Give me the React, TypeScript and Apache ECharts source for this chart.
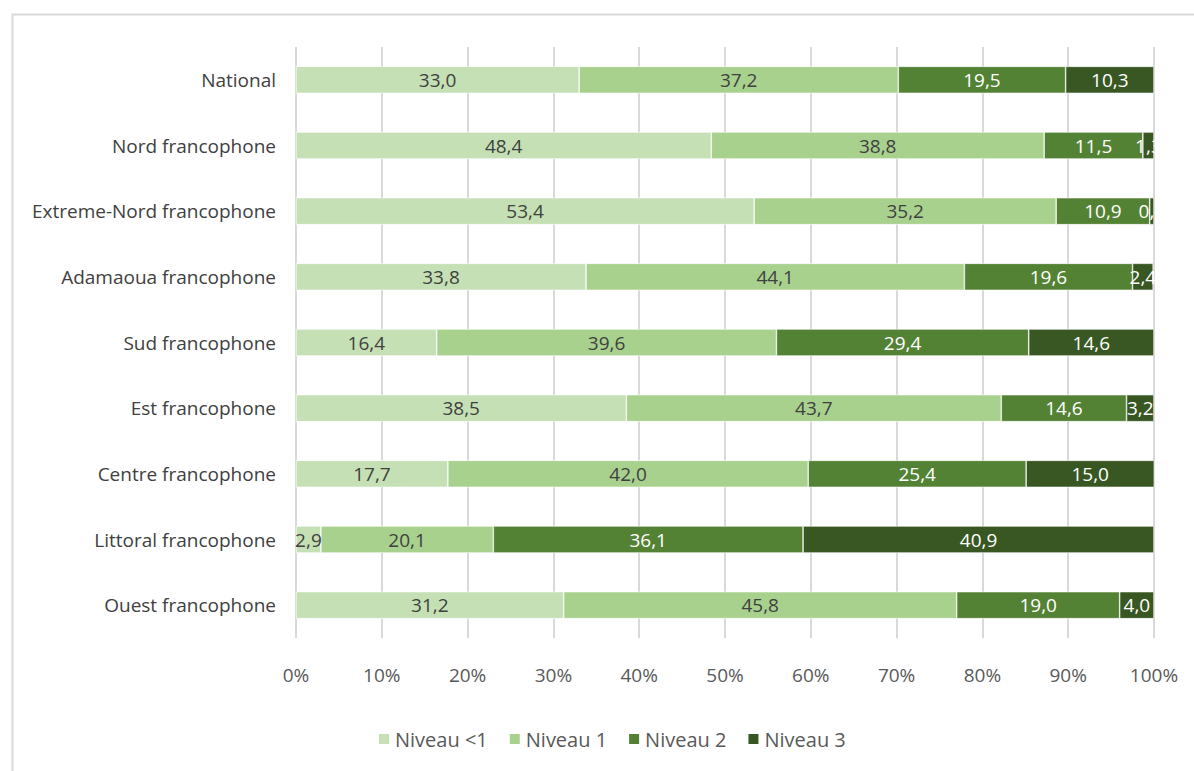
import React, { useEffect, useRef } from "react";
import * as echarts from "echarts";

const categories = [
  "National",
  "Nord francophone",
  "Extreme-Nord francophone",
  "Adamaoua francophone",
  "Sud francophone",
  "Est francophone",
  "Centre francophone",
  "Littoral francophone",
  "Ouest francophone",
];
const seriesNames = ["Niveau <1", "Niveau 1", "Niveau 2", "Niveau 3"];
const niveauMoins1 = [33.0, 48.4, 53.4, 33.8, 16.4, 38.5, 17.7, 2.9, 31.2];
const niveau1 = [37.2, 38.8, 35.2, 44.1, 39.6, 43.7, 42.0, 20.1, 45.8];
const niveau2 = [19.5, 11.5, 10.9, 19.6, 29.4, 14.6, 25.4, 36.1, 19.0];
const niveau3 = [10.3, 1.3, 0.5, 2.4, 14.6, 3.2, 15.0, 40.9, 4.0];
const tickValues = [0, 10, 20, 30, 40, 50, 60, 70, 80, 90, 100];

const colors = ["#C5E0B4", "#A9D18E", "#548235", "#385723"];
const labelColors = ["#404040", "#404040", "#ffffff", "#ffffff"];
const FONT = "'Open Sans', sans-serif";

export default function App() {
  const ref = useRef<HTMLDivElement>(null);
  useEffect(() => {
    if (!ref.current) return;
    const chart = echarts.init(ref.current, null, { renderer: "svg" });
    const all = [niveauMoins1, niveau1, niveau2, niveau3];
    chart.setOption({
      animation: false,
      backgroundColor: "#ffffff",
      textStyle: { fontFamily: FONT },
      grid: { left: 296, right: 40, top: 47, bottom: 133, containLabel: false },
      legend: {
        data: seriesNames,
        bottom: 17,
        left: 372,
        itemWidth: 12,
        itemHeight: 12,
        itemGap: 20,
        icon: "rect",
        textStyle: { color: "#595959", fontSize: 20, fontFamily: FONT },
      },
      xAxis: {
        type: "value",
        min: 0,
        max: 100,
        interval: 10,
        axisLine: { show: false },
        axisTick: { show: false },
        splitLine: { show: true, lineStyle: { color: "#d9d9d9", width: 2 } },
        axisLabel: {
          color: "#595959",
          fontSize: 19,
          margin: 27,
          fontFamily: FONT,
          formatter: (v: number) => (tickValues.includes(v) ? v + "%" : ""),
        },
      },
      yAxis: {
        type: "category",
        data: categories,
        inverse: true,
        axisLine: { show: false },
        axisTick: { show: false },
        axisLabel: { color: "#404040", fontSize: 19, margin: 20, fontFamily: FONT },
      },
      graphic: [
        {
          type: "rect",
          left: 10,
          top: 12,
          shape: { width: 1300, height: 900 },
          style: { fill: "none", stroke: "#d9d9d9", lineWidth: 2 },
          silent: true,
          z: -1,
        },
        {
          type: "rect",
          left: 1156,
          top: 50,
          shape: { width: 34, height: 585 },
          style: { fill: "#ffffff" },
          silent: true,
          z: 100,
        },
      ],
      series: seriesNames.map((name, i) => ({
        name,
        type: "bar",
        stack: "total",
        barWidth: 27,
        data: all[i],
        itemStyle: { color: colors[i], borderColor: "#ffffff", borderWidth: 0.6 },
        label: {
          show: true,
          position: "inside",
          color: labelColors[i],
          fontSize: 19,
          fontFamily: FONT,
          formatter: (p: any) => Number(p.value).toFixed(1).replace(".", ","),
        },
      })),
    });
    return () => chart.dispose();
  }, []);
  return (
    <div
      ref={ref}
      style={{ position: "absolute", left: 0, top: 0, width: 1194, height: 771 }}
    />
  );
}
